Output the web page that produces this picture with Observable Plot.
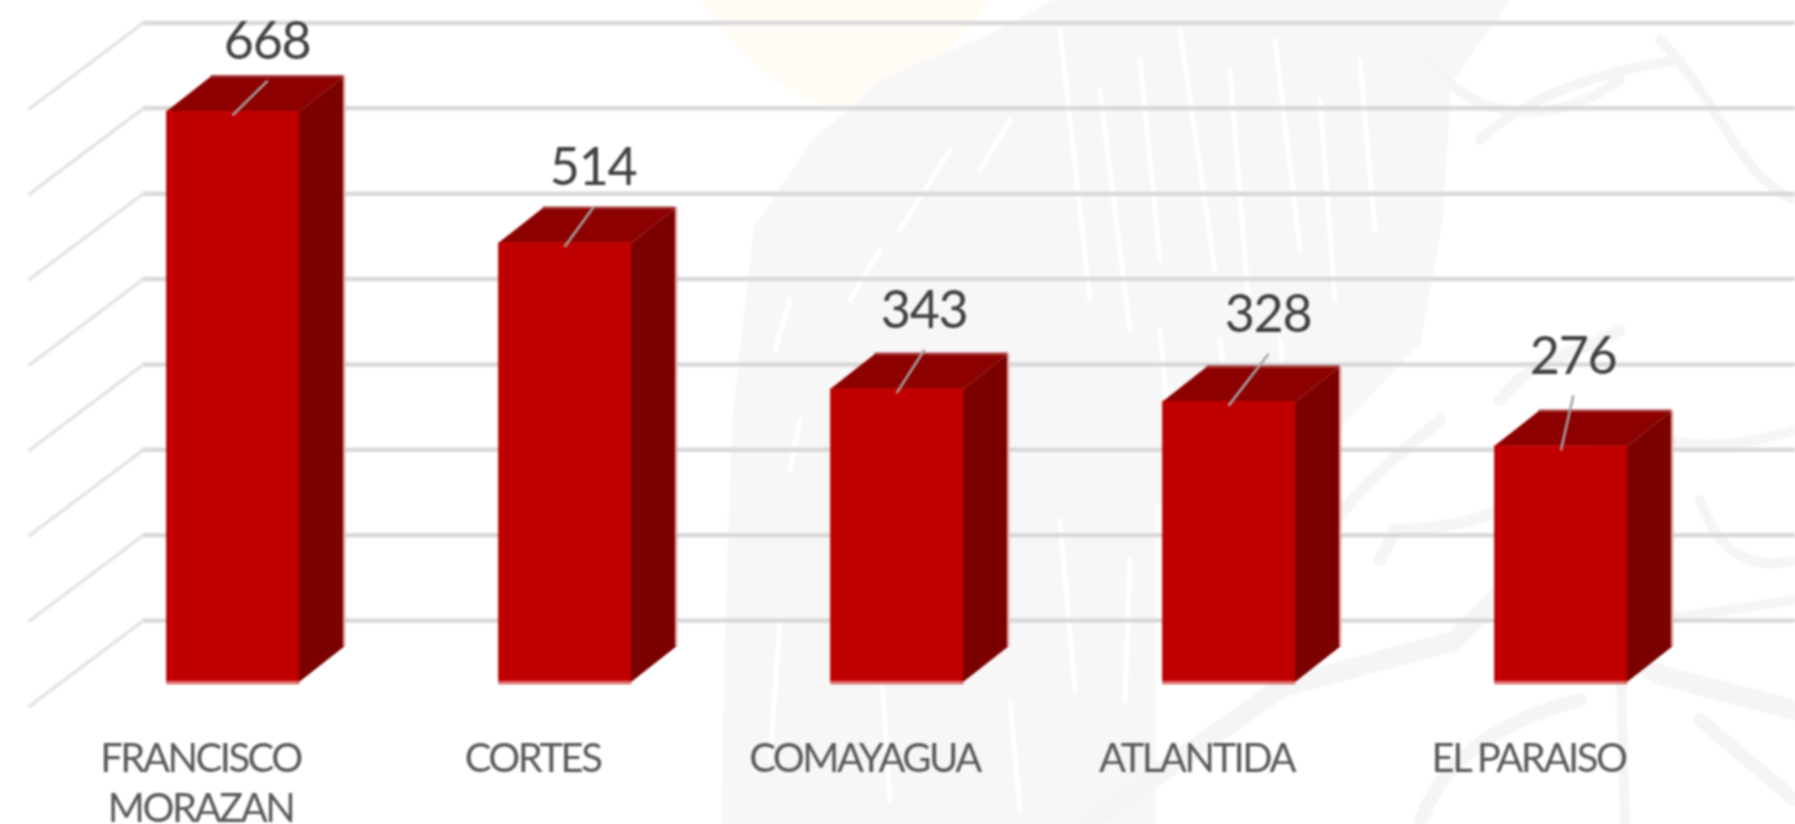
<!DOCTYPE html>
<html><head><meta charset="utf-8">
<script src="https://cdn.jsdelivr.net/npm/d3@7"></script>
<script src="https://cdn.jsdelivr.net/npm/@observablehq/plot@0.6"></script>
<style>html,body{margin:0;padding:0;background:#fff;overflow:hidden}
svg{display:block;background:transparent}
text{font-family:Lato,"Open Sans",sans-serif}
[font-size="40"]{letter-spacing:-2.5px}
[font-size="52"]{letter-spacing:-1.3px}
#c{filter:blur(.9px);width:1795px;height:824px}</style></head>
<body><div id="c"></div>
<script>
const departments = ["FRANCISCO\nMORAZAN","CORTES","COMAYAGUA","ATLANTIDA","EL PARAISO"];
const cases = [668,514,343,328,276];
const labelShift = [0.102,0.084,0.081,0.117,0.036];
const labelLift = [81,87,91,101,104];
const gridValues = [0,100,200,300,400,500,600,700];

// faint page watermark (decoration only, behind the chart)
const watermark = `<svg xmlns='http://www.w3.org/2000/svg' width='1795' height='824'>
<path d='M700 0 C740 60 800 110 850 110 C920 90 960 40 990 0Z' fill='#fffbf5'/>
<path d='M810 142L883 79L994 32L1053 0H1510L1451 84L1443 221L1421 342L1333 436L1156 504V824H721L725 630L732 420L754 226Z' fill='#f7f7f7'/>
<g stroke='#fff' fill='none' stroke-linecap='round' stroke-width='5'>
<path d='M1060 30L1090 300M1100 90L1130 330M1140 60L1160 260M1180 30L1215 270M1230 70L1250 320M1275 40L1300 250M1320 100L1335 300M1360 60L1375 230M1160 330L1170 440M1220 340L1235 470M1280 340L1290 430M1010 120L980 170M950 150L900 230M880 250L850 300M790 300L775 350M800 420L790 470M850 480L845 560M960 500L975 640M1060 520L1075 690M1130 560L1125 700M780 620L770 760M880 650L890 800M1010 700L1020 810'/></g>
<g stroke='#f5f5f5' fill='none' stroke-linecap='round' stroke-linejoin='round'>
<path stroke-width='20' d='M1088 824L1282 687L1454 641L1511 584L1660 675L1795 710'/>
<path stroke-width='12' d='M1300 580C1340 500 1380 470 1440 420M1380 560L1395 530C1500 530 1560 480 1620 440M1500 400C1540 350 1570 360 1620 330'/>
<path stroke-width='10' d='M1430 60C1470 120 1550 130 1620 80M1480 140C1520 100 1600 70 1680 60M1660 40C1720 100 1740 180 1795 200M1620 640L1625 824M1640 430C1680 450 1730 450 1795 430M1700 500C1720 560 1760 570 1795 560M1660 620L1795 600'/>
<path stroke-width='14' d='M1420 824C1440 760 1500 720 1580 700M1700 720L1795 800'/></g></svg>`;
document.getElementById("c").style.background = `url("data:image/svg+xml,${encodeURIComponent(watermark)}")`;

const rows = departments.map((name,i)=>({name,i,v:cases[i],shift:labelShift[i],lift:labelLift[i]}));
// oblique projection of the 3D chart, in scale units
const barL=-0.102, barW=0.401, depthX=0.134, depthY=41, overlap=0.006;
const wallY=71.4;
const poly=(f)=>rows.flatMap(r=>f(r).map(([x,y])=>({x,y,k:r.i})));
const frontFace=rows.map(r=>({x1:r.i+barL,x2:r.i+barL+barW,y1:0,y2:r.v}));
const sideFace=poly(r=>{const a=r.i+barL+barW,b=a+depthX;return [[a-overlap,0],[a,0],[b,depthY],[b,r.v+depthY],[a,r.v],[a-overlap,r.v]]});
const topFace=poly(r=>{const a=r.i+barL,b=a+barW;return [[a,r.v],[b,r.v],[b+depthX,r.v+depthY],[a+depthX,r.v+depthY]]});
const wallL=-0.515, wallR=-0.172;
const diag=gridValues.flatMap(v=>[{x:wallL,y:v-29,k:v},{x:wallR,y:v+wallY,k:v}]);
const backLines=gridValues.flatMap(v=>[{x:wallR,y:v+wallY,k:v},{x:5,y:v+wallY,k:v}]);
const leader=rows.flatMap(r=>[{x:r.i+barL+barW/2,y:r.v-4,k:r.i},{x:r.i+barL+barW/2+r.shift,y:r.v+r.lift-46,k:r.i}]);

const chart=Plot.plot({
  width:1795,height:824,margin:0,style:{background:"transparent"},
  x:{type:"linear",domain:[-200/332,(1795-200)/332],range:[0,1795],axis:null},
  y:{type:"linear",domain:[0,668],range:[681,110.7],axis:null},
  marks:[
    Plot.line(backLines,{x:"x",y:"y",z:"k",stroke:"#d9d9d9",strokeWidth:4.5}),
    Plot.line(diag,{x:"x",y:"y",z:"k",stroke:"#e4e4e4",strokeWidth:3.5}),
    Plot.line(sideFace,{x:"x",y:"y",z:"k",fill:"#7b0000",curve:"linear-closed"}),
    Plot.line(topFace,{x:"x",y:"y",z:"k",fill:"#8c0000",curve:"linear-closed"}),
    Plot.ruleY(rows,{x1:d=>d.i+barL+depthX,x2:d=>d.i+barL+barW+depthX,y:d=>d.v+depthY,stroke:"#a63c3c",strokeWidth:2.5}),
    Plot.ruleX(rows,{x:d=>d.i+barL+barW+depthX,y1:depthY,y2:d=>d.v+depthY,stroke:"#e3a9a9",strokeWidth:2.5}),
    Plot.rect(frontFace,{x1:"x1",x2:"x2",y1:"y1",y2:"y2",fill:"#c00000"}),
    Plot.ruleY(rows,{x1:d=>d.i+barL,x2:d=>d.i+barL+barW,y:-1.5,stroke:"#dc6060",strokeWidth:3}),
    Plot.line(leader,{x:"x",y:"y",z:"k",stroke:"#a6a6a6",strokeWidth:2.5}),
    Plot.text(rows,{x:d=>d.i+barL+barW/2+d.shift,y:d=>d.v+d.lift,text:d=>String(d.v),fontSize:52,fill:"#404040",textAnchor:"middle"}),
    Plot.text(rows,{x:"i",y:-65,text:"name",lineHeight:1.25,lineAnchor:"top",fontSize:40,fill:"#595959",textAnchor:"middle"})
  ]
});
document.getElementById("c").appendChild(chart);
</script></body></html>
